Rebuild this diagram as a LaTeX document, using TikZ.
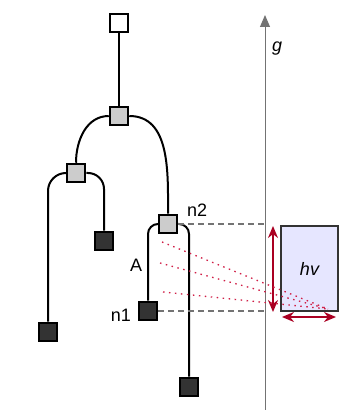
\documentclass[tikz,border=0pt]{standalone}
\usepackage{fontspec}
\setmainfont{Liberation Sans}
\usepackage{tikz}
\usetikzlibrary{arrows.meta}
\definecolor{splitgray}{RGB}{204,204,204}
\definecolor{leafdark}{RGB}{51,51,51}
\definecolor{measred}{RGB}{170,0,34}
\definecolor{rayred}{RGB}{208,30,70}
\definecolor{hvfill}{RGB}{230,230,255}
\definecolor{axisgray}{RGB}{115,115,115}

\begin{document}
\begin{tikzpicture}[x=1pt, y=1pt, >=Stealth,
    font=\fontsize{18}{20}\selectfont,
    box/.style={draw, line width=2pt, minimum size=18.5pt, inner sep=0pt},
    rootbox/.style={box, fill=white},
    splitbox/.style={box, fill=splitgray},
    leafbox/.style={box, fill=leafdark},
    link/.style={line width=2pt},
    guide/.style={axisgray, dash pattern=on 6pt off 4pt, line width=1.1pt},
    measure/.style={measred, line width=1.8pt, {Stealth[length=12pt,width=10pt]}-{Stealth[length=12pt,width=10pt]}},
    ray/.style={rayred, line width=1.3pt, dash pattern=on 1.5pt off 4.5pt},
    lbl/.style={inner sep=0pt}]
    \useasboundingbox (0,0) rectangle (357,418);

    % Tree
    \node[rootbox] (root) at (119,395) {};
    \node[splitbox] (B) at (119,302) {};
    \node[splitbox] (C) at (76,245) {};
    \node[leafbox] (D) at (104,177) {};
    \node[leafbox] (L) at (48,86) {};
    \node[splitbox] (n2) at (168,194) {};
    \node[leafbox] (n1) at (148,107) {};
    \node[leafbox] (E) at (189,31) {};

    \draw[link] (root) -- (B);
    \draw[link] (B.west) to[out=180,in=90] (C.north);
    \draw[link] (B.east) to[out=0,in=90] (n2.north);
    \draw[link, rounded corners=18pt] (C.west) -| (L.north);
    \draw[link, rounded corners=16pt] (C.east) -| (D.north);
    \draw[link, rounded corners=10pt] (n2.west) -| (n1.north);
    \draw[link, rounded corners=10pt] (n2.east) -| (E.north);

    \node[lbl, anchor=base west] (n2lbl) at (187,201) {n2};
    \node[lbl, anchor=base west] (Albl) at (130,146) {A};
    \node[lbl, anchor=base east] (n1lbl) at (131,96) {n1};

    % Gravity axis
    \coordinate (gbot) at (265,8);
    \coordinate (gtop) at (265,403);
    \draw[axisgray, line width=1pt, -{Triangle[length=12pt,width=10pt]}] (gbot) -- (gtop);
    \node[lbl, anchor=base west] (glbl) at (272,366) {\itshape g};

    \draw[guide] (n2.east) -- (n2.east -| gtop);
    \draw[guide] (n1.east) -- (n1.east -| gtop);

    % Projection box
    \node[draw=black!80, line width=1.3pt, fill=hvfill, minimum width=57pt, minimum height=85pt, inner sep=0pt] (hv) at (309.5,149.5) {\itshape hv};

    \coordinate (vtop) at (273,192);
    \coordinate (vbot) at (273,106);
    \draw[measure] (vbot) -- (vtop);
    \coordinate (hleft) at (282,101);
    \coordinate (hright) at (336,101);
    \draw[measure] (hleft) -- (hright);

    % Rays
    \coordinate (r1) at (162,176);
    \coordinate (r2) at (160,155);
    \coordinate (r3) at (163,126);
    \coordinate (rend) at (328,109);
    \foreach \r in {r1,r2,r3}
        \draw[ray] (\r) -- (rend);
\end{tikzpicture}
\end{document}
